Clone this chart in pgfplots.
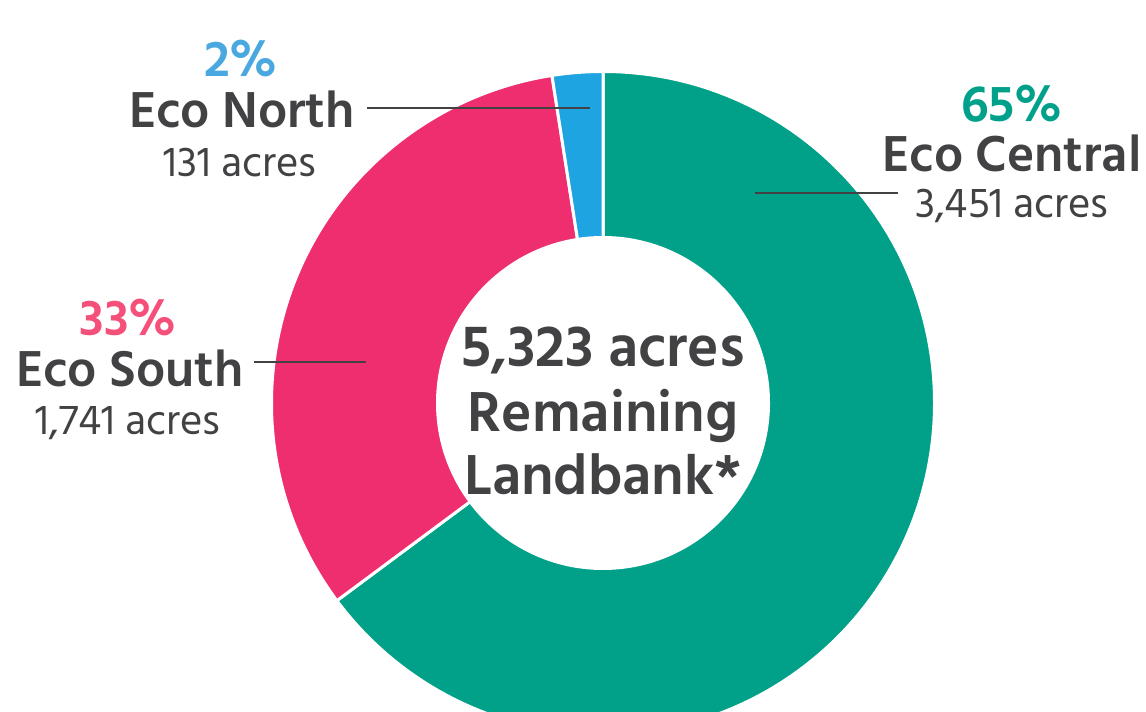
\documentclass[border=0pt]{standalone}
\usepackage{pgfplots}
\usepackage{pgfplotstable}
\pgfplotsset{compat=1.18}
\usepackage{fontspec}
\setmainfont{Hind Siliguri}
\definecolor{cteal}{HTML}{00A188}
\definecolor{cpink}{HTML}{EE2E6F}
\definecolor{cblue}{HTML}{1DA4E1}
\definecolor{tdark}{HTML}{424244}
\definecolor{lteal}{HTML}{00A08A}
\definecolor{lpink}{HTML}{F5507A}
\definecolor{lblue}{HTML}{4AA8E0}
\pgfplotstableread{
name value
Central 3451
South 1741
North 131
}\landdata
\begin{document}
\begin{tikzpicture}
\useasboundingbox (0,0) rectangle (1146bp,712bp);
\clip (0,0) rectangle (1146bp,712bp);
\pgfplotstablegetelem{0}{value}\of\landdata \let\vA\pgfplotsretval
\pgfplotstablegetelem{1}{value}\of\landdata \let\vB\pgfplotsretval
\pgfplotstablegetelem{2}{value}\of\landdata \let\vC\pgfplotsretval
\pgfmathsetmacro\tot{(\vA+\vB+\vC)/100}
\pgfmathsetmacro\fA{\vA/\tot}
\pgfmathsetmacro\fB{\vB/\tot}
\pgfmathsetmacro\fC{\vC/\tot}
\pgfmathsetmacro\aA{90}
\pgfmathsetmacro\aB{90-3.6*\fA}
\pgfmathsetmacro\aC{\aB-3.6*\fB}
\pgfmathsetmacro\aD{\aC-3.6*\fC}
\begin{axis}[at={(0,0)}, anchor=south west, width=1146bp, height=712bp,
  scale only axis, xmin=0, xmax=1146, ymin=0, ymax=712, hide axis, clip=false]
\filldraw[fill=cteal, draw=white, line width=3bp, line join=round] (axis cs:603,309) -- ++(\aA:331.5bp) arc[start angle=\aA, end angle=\aB, radius=331.5bp] -- cycle;
\filldraw[fill=cpink, draw=white, line width=3bp, line join=round] (axis cs:603,309) -- ++(\aB:331.5bp) arc[start angle=\aB, end angle=\aC, radius=331.5bp] -- cycle;
\filldraw[fill=cblue, draw=white, line width=3bp, line join=round] (axis cs:603,309) -- ++(\aC:331.5bp) arc[start angle=\aC, end angle=\aD, radius=331.5bp] -- cycle;
\fill[white] (axis cs:603,309) circle[radius=167bp];
% leader lines
\draw[tdark, line width=2.8bp] (axis cs:367,604) -- (axis cs:590,604);
\draw[tdark, line width=2.8bp] (axis cs:755,519) -- (axis cs:898,519);
\draw[tdark, line width=2.8bp] (axis cs:254,350) -- (axis cs:366,350);
% labels
\node[anchor=base, text=lblue, font=\fontsize{52}{60}\selectfont\bfseries, inner sep=0] at (axis cs:241,635) {2\%};
\node[anchor=base, text=tdark, font=\fontsize{52}{60}\selectfont\bfseries, inner sep=0] at (axis cs:242,584) {Eco North};
\node[anchor=base, text=tdark, font=\fontsize{43}{50}\selectfont, inner sep=0] at (axis cs:240,535) {131 acres};
\node[anchor=base, text=lteal, font=\fontsize{52}{60}\selectfont\bfseries, inner sep=0] at (axis cs:1012,590) {65\%};
\node[anchor=base, text=tdark, font=\fontsize{52}{60}\selectfont\bfseries, inner sep=0] at (axis cs:1012,540) {Eco Central};
\node[anchor=base, text=tdark, font=\fontsize{43}{50}\selectfont, inner sep=0] at (axis cs:1012,494) {3,451 acres};
\node[anchor=base, text=lpink, font=\fontsize{52}{60}\selectfont\bfseries, inner sep=0] at (axis cs:128,376) {33\%};
\node[anchor=base, text=tdark, font=\fontsize{52}{60}\selectfont\bfseries, inner sep=0] at (axis cs:130,325) {Eco South};
\node[anchor=base, text=tdark, font=\fontsize{43}{50}\selectfont, inner sep=0] at (axis cs:128,277) {1,741 acres};
\node[anchor=base, text=tdark, font=\fontsize{60}{70}\selectfont\bfseries, inner sep=0] at (axis cs:603,345) {5,323 acres};
\node[anchor=base, text=tdark, font=\fontsize{58}{70}\selectfont\bfseries, inner sep=0] at (axis cs:603,280) {Remaining};
\node[anchor=base, text=tdark, font=\fontsize{58}{70}\selectfont\bfseries, inner sep=0] at (axis cs:603,217) {Landbank*};
\end{axis}
\end{tikzpicture}
\end{document}
